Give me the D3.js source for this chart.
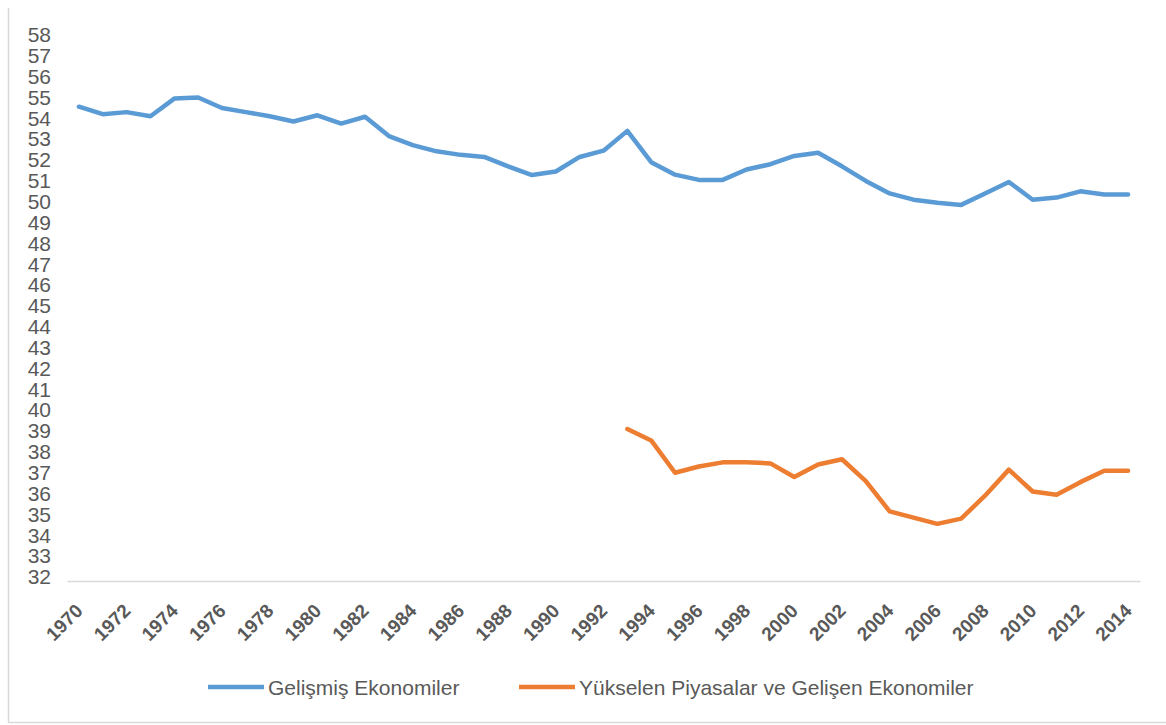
<!DOCTYPE html>
<html>
<head>
<meta charset="utf-8">
<script src="https://cdn.jsdelivr.net/npm/d3@7"></script>
<style>
  body { margin: 0; background: #fff; }
  svg { display: block; }
</style>
</head>
<body>
<script>
var years = [1970, 1971, 1972, 1973, 1974, 1975, 1976, 1977, 1978, 1979,
             1980, 1981, 1982, 1983, 1984, 1985, 1986, 1987, 1988, 1989,
             1990, 1991, 1992, 1993, 1994, 1995, 1996, 1997, 1998, 1999,
             2000, 2001, 2002, 2003, 2004, 2005, 2006, 2007, 2008, 2009,
             2010, 2011, 2012, 2013, 2014];

// Gelişmiş Ekonomiler
var gelismis = [54.56, 54.2, 54.3, 54.1, 54.95, 55.0, 54.5, 54.3, 54.1, 53.85,
                54.15, 53.75, 54.08, 53.15, 52.72, 52.42, 52.25, 52.15, 51.7, 51.28,
                51.45, 52.15, 52.45, 53.4, 51.9, 51.3, 51.05, 51.05, 51.55, 51.8,
                52.2, 52.35, 51.7, 51.0, 50.4, 50.1, 49.95, 49.85, 50.4, 50.95,
                50.1, 50.2, 50.5, 50.35, 50.35];

// Yükselen Piyasalar ve Gelişen Ekonomiler (data starts 1993)
var yukselen = [null, null, null, null, null, null, null, null, null, null,
                null, null, null, null, null, null, null, null, null, null,
                null, null, null, 39.1, 38.55, 37.0, 37.3, 37.5, 37.5, 37.45,
                36.8, 37.4, 37.65, 36.6, 35.15, 34.85, 34.55, 34.8, 35.9, 37.15,
                36.1, 35.95, 36.55, 37.1, 37.1];

var yTicks = [32, 33, 34, 35, 36, 37, 38, 39, 40, 41, 42, 43, 44, 45,
              46, 47, 48, 49, 50, 51, 52, 53, 54, 55, 56, 57, 58];
var xTicks = [1970, 1972, 1974, 1976, 1978, 1980, 1982, 1984, 1986, 1988, 1990, 1992,
              1994, 1996, 1998, 2000, 2002, 2004, 2006, 2008, 2010, 2012, 2014];

var seriesNames = ["Gelişmiş Ekonomiler", "Yükselen Piyasalar ve Gelişen Ekonomiler"];
var seriesColors = ["#5b9bd5", "#ed7d31"];

function DrawChart()
{
    var width = 1166;
    var height = 725;
    var textColor = "#595959";

    var svg = d3.select("body").append("svg")
            .attr("width", width)
            .attr("height", height);

    // outer frame (only left and bottom edges show)
    svg.append("line")
       .attr("x1", 8.5).attr("x2", 8.5).attr("y1", 8).attr("y2", 722.5)
       .attr("stroke", "#d9d9d9").attr("stroke-width", 1.5);
    svg.append("line")
       .attr("x1", 8).attr("x2", width).attr("y1", 722.5).attr("y2", 722.5)
       .attr("stroke", "#d9d9d9").attr("stroke-width", 1.5);

    var x = d3.scaleBand().domain(years).range([67, 1140]);
    var y = d3.scaleLinear().domain([32, 58]).range([577, 35]);

    function cx(yr) { return x(yr) + x.bandwidth() / 2; }

    // y axis labels
    var yAxis = svg.append("g")
       .attr("transform", "translate(51,0)")
       .call(d3.axisLeft(y).tickValues(yTicks).tickSize(0).tickPadding(0));
    yAxis.select(".domain").remove();
    yAxis.selectAll("text")
       .attr("font-family", "'Liberation Sans', Arial, sans-serif")
       .attr("font-size", 21)
       .attr("fill", textColor);

    // x axis
    var xAxis = svg.append("g")
       .attr("transform", "translate(0,581)")
       .call(d3.axisBottom(x).tickValues(xTicks).tickSize(0).tickSizeOuter(0));
    xAxis.select(".domain")
       .attr("stroke", "#d9d9d9")
       .attr("stroke-width", 1.5);
    xAxis.selectAll("text")
       .attr("x", 0).attr("y", 0).attr("dy", 0)
       .attr("transform", "translate(5,31) rotate(-45)")
       .attr("text-anchor", "end")
       .attr("font-family", "'Liberation Sans', Arial, sans-serif")
       .attr("font-weight", "bold")
       .attr("font-size", 19)
       .attr("fill", textColor);

    // lines
    var line = d3.line()
        .defined(function (d) { return d.v != null; })
        .x(function (d) { return cx(d.year); })
        .y(function (d) { return y(d.v); });

    [gelismis, yukselen].forEach(function (vals, i)
    {
        var pts = years.map(function (yr, j) { return { year: yr, v: vals[j] }; });
        svg.append("path")
           .datum(pts)
           .attr("d", line)
           .attr("fill", "none")
           .attr("stroke", seriesColors[i])
           .attr("stroke-width", 4.5)
           .attr("stroke-linejoin", "round")
           .attr("stroke-linecap", "round");
    });

    // legend
    var legendX = [208, 519];
    seriesNames.forEach(function (name, i)
    {
        svg.append("line")
           .attr("x1", legendX[i]).attr("x2", legendX[i] + 56)
           .attr("y1", 687).attr("y2", 687)
           .attr("stroke", seriesColors[i])
           .attr("stroke-width", 4.5);
        svg.append("text")
           .attr("x", legendX[i] + 60)
           .attr("y", 695)
           .attr("font-family", "'Liberation Sans', Arial, sans-serif")
           .attr("font-size", 21)
           .attr("fill", textColor)
           .text(name);
    });
}
DrawChart();
</script>
</body>
</html>
